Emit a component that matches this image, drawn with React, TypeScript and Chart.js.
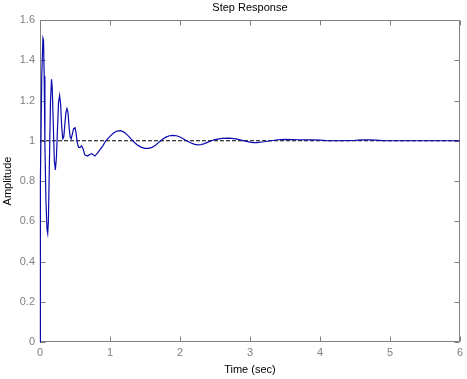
import React, { useEffect, useRef } from 'react';
import { Chart, registerables } from 'chart.js';

Chart.register(...registerables);

// ---- Data ----
const timeSec = [
  0, 0.002, 0.01, 0.025, 0.042, 0.05, 0.06, 0.07, 0.085, 0.1, 0.11, 0.12, 0.135, 0.15, 0.165, 0.175,
  0.19, 0.205, 0.22, 0.235, 0.25, 0.265, 0.28, 0.295, 0.31, 0.325, 0.34, 0.355, 0.37, 0.385, 0.4,
  0.415, 0.43, 0.445, 0.46, 0.48, 0.5, 0.515, 0.53, 0.55, 0.57, 0.595, 0.615, 0.64, 0.68, 0.71,
  0.74, 0.76, 0.785, 0.82, 0.85, 0.9, 0.94, 1.0, 1.05, 1.1, 1.15, 1.2, 1.25, 1.3, 1.35, 1.4, 1.45,
  1.5, 1.55, 1.6, 1.65, 1.7, 1.75, 1.8, 1.85, 1.9, 1.95, 2.0, 2.05, 2.1, 2.15, 2.2, 2.25, 2.3, 2.35,
  2.4, 2.45, 2.5, 2.6, 2.7, 2.8, 2.9, 3.0, 3.05, 3.1, 3.2, 3.3, 3.4, 3.5, 3.6, 3.7, 3.8, 3.9, 4.0,
  4.1, 4.3, 4.5, 4.6, 4.7, 4.8, 4.9, 5.0, 5.5, 6.0,
];
const amplitude = [
  0, 0.26, 0.81, 1.32, 1.51, 1.5, 1.32, 0.98, 0.7, 0.56, 0.54, 0.6, 0.9, 1.2, 1.305, 1.26,
  1.08, 0.9, 0.855, 0.92, 1.06, 1.19, 1.225, 1.18, 1.07, 1.01, 1.02, 1.08, 1.14, 1.16, 1.14,
  1.07, 1.02, 1.01, 1.03, 1.06, 1.065, 1.04, 0.995, 0.968, 0.966, 0.975, 0.96, 0.93, 0.924, 0.932,
  0.936, 0.93, 0.924, 0.938, 0.952, 0.976, 1.0, 1.022, 1.038, 1.048, 1.05, 1.043, 1.028, 1.009, 0.991, 0.977, 0.967,
  0.962, 0.962, 0.967, 0.978, 0.993, 1.007, 1.018, 1.025, 1.027, 1.025, 1.019, 1.009, 0.999, 0.99, 0.983, 0.98, 0.981, 0.986,
  0.993, 1.0, 1.006, 1.012, 1.013, 1.009, 1.001, 0.993, 0.991, 0.991, 0.995, 1.0, 1.005, 1.007, 1.006, 1.005, 1.004, 1.004, 1.003,
  1.001, 1.0, 1.002, 1.004, 1.004, 1.003, 1.001, 1.0, 1.0, 1.0,
];
const refTime = [0, 6];
const refAmplitude = [1, 1];

const xTickValues = [0, 1, 2, 3, 4, 5, 6];
const xTickLabels = ['0', '1', '2', '3', '4', '5', '6'];
const yTickValues = [0, 0.2, 0.4, 0.6, 0.8, 1, 1.2, 1.4, 1.6];
const yTickLabels = ['0', '0.2', '0.4', '0.6', '0.8', '1', '1.2', '1.4', '1.6'];

const titleText = 'Step Response';
const xTitleText = 'Time (sec)';
const yTitleText = 'Amplitude';

const FONT = "'Liberation Sans', Arial, Helvetica, sans-serif";
const AXIS_GRAY = '#808080';

const boxPlugin = {
  id: 'matlabBox',
  beforeDatasetsDraw(chart: any) {
    const { ctx, chartArea, scales } = chart;
    const l = Math.round(chartArea.left) + 0.5;
    const r = Math.round(chartArea.right) - 0.5;
    const t = Math.round(chartArea.top) + 0.5;
    const b = Math.round(chartArea.bottom) - 0.5;
    const len = 5;
    ctx.save();
    ctx.strokeStyle = AXIS_GRAY;
    ctx.lineWidth = 1;
    ctx.beginPath();
    ctx.rect(l, t, r - l, b - t);
    for (const v of xTickValues) {
      const px = Math.round(scales.x.getPixelForValue(v)) + 0.5;
      ctx.moveTo(px, b);
      ctx.lineTo(px, b - len);
      ctx.moveTo(px, t);
      ctx.lineTo(px, t + len);
    }
    for (const v of yTickValues) {
      const py = Math.round(scales.y.getPixelForValue(v)) + 0.5;
      ctx.moveTo(l, py);
      ctx.lineTo(l + len, py);
      ctx.moveTo(r, py);
      ctx.lineTo(r - len, py);
    }
    ctx.stroke();
    ctx.restore();
  },
};

export default function App() {
  const ref = useRef<HTMLCanvasElement | null>(null);

  useEffect(() => {
    if (!ref.current) return;
    const response = timeSec.map((t, i) => ({ x: t, y: amplitude[i] }));
    const reference = refTime.map((t, i) => ({ x: t, y: refAmplitude[i] }));
    const chart = new Chart(ref.current, {
      type: 'line',
      data: {
        datasets: [
          {
            data: response,
            borderColor: '#0a0ab0',
            borderWidth: 1.2,
            pointRadius: 0,
            tension: 0,
            fill: false,
            clip: 3,
          },
          {
            data: reference,
            borderColor: '#000000',
            borderWidth: 1,
            borderDash: [4, 2],
            pointRadius: 0,
            fill: false,
          },
        ],
      },
      options: {
        responsive: false,
        animation: false,
        events: [],
        layout: { padding: { left: 0, right: 6, top: 0, bottom: 0 } },
        plugins: {
          legend: { display: false },
          tooltip: { enabled: false },
          title: {
            display: true,
            fullSize: false,
            text: titleText,
            color: '#000000',
            font: { family: FONT, size: 11, weight: 'normal', lineHeight: 1.2 },
            padding: { top: 1.5, bottom: 5.3 },
          },
        },
        scales: {
          x: {
            type: 'linear',
            min: 0,
            max: 6,
            grid: { display: false, drawTicks: false },
            border: { display: false },
            afterBuildTicks: (scale: any) => {
              scale.ticks = xTickValues.map((v) => ({ value: v }));
            },
            afterFit: (scale: any) => {
              scale.height = 37;
            },
            ticks: {
              color: AXIS_GRAY,
              padding: 4,
              maxRotation: 0,
              autoSkip: false,
              font: { family: FONT, size: 11 },
              callback: (_v: any, i: number) => xTickLabels[i],
            },
            title: {
              display: true,
              text: xTitleText,
              color: '#000000',
              font: { family: FONT, size: 11, lineHeight: 1.2 },
              padding: { top: 0, bottom: 2.4 },
            },
          },
          y: {
            type: 'linear',
            min: 0,
            max: 1.6,
            grid: { display: false, drawTicks: false },
            border: { display: false },
            afterBuildTicks: (scale: any) => {
              scale.ticks = yTickValues.map((v) => ({ value: v }));
            },
            afterFit: (scale: any) => {
              scale.width = 40;
            },
            ticks: {
              color: AXIS_GRAY,
              padding: 5,
              autoSkip: false,
              font: { family: FONT, size: 11 },
              callback: (_v: any, i: number) => yTickLabels[i],
            },
            title: {
              display: true,
              text: yTitleText,
              color: '#000000',
              font: { family: FONT, size: 11, lineHeight: 1.2 },
              padding: { top: 1.5, bottom: 0 },
            },
          },
        },
      },
      plugins: [boxPlugin],
    });
    return () => chart.destroy();
  }, []);

  return (
    <div style={{ position: 'absolute', left: 0, top: 0, width: 467, height: 379, background: '#ffffff' }}>
      <canvas ref={ref} width={467} height={379} style={{ display: 'block', width: 467, height: 379 }} />
    </div>
  );
}
